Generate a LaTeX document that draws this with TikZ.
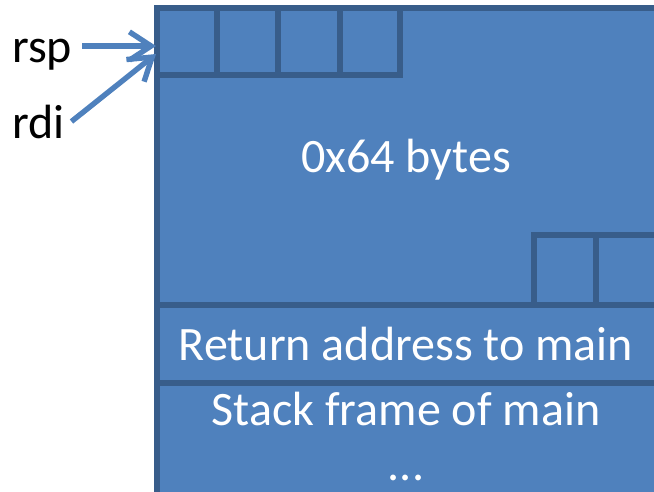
\documentclass[tikz,border=0pt]{standalone}
\usepackage{fontspec}
\setmainfont{Carlito}
\usetikzlibrary{arrows.meta}
\definecolor{memfill}{HTML}{4F81BD}
\definecolor{memedge}{HTML}{385D8A}

\begin{document}
\begin{tikzpicture}[
  x=0.03cm, y=-0.03cm,
  mem/.style={draw=memedge, fill=memfill, line width=4.4pt},
  cell/.style={draw=memedge, line width=4.4pt},
  inbox/.style={font=\fontsize{41}{44}\selectfont, text=white, anchor=base},
  reg/.style={font=\fontsize{41}{44}\selectfont, text=black, anchor=base west, inner sep=0pt},
  ptr/.style={-{Straight Barb[length=6.5mm, width=8.5mm]}, draw=memfill, line width=4.6pt}
]
\clip (0,0) rectangle (654,491);

% stack memory
\draw[mem] (157,8) rectangle (662,500);
\foreach \x in {217,278,340} \draw[cell] (\x,8) -- (\x,75);
\draw[cell] (157,75) -- (400,75) -- (400,8);
\draw[cell] (534,305) -- (534,235) -- (662,235);
\draw[cell] (596,235) -- (596,305);
\draw[cell] (157,305) -- (662,305);
\draw[cell] (157,383) -- (662,383);

\node[inbox] (buf) at (406,172) {0x64 bytes};
\node[inbox] (ret) at (406,360) {Return address to main};
\node[inbox] (frame) at (406,425) {Stack frame of main};
\node[inbox] (more) at (406,480) {...};

% registers
\node[reg] (rsp) at (12,62) {rsp};
\node[reg] (rdi) at (12,138) {rdi};
\coordinate (rsptip) at (156,46);
\coordinate (rditip) at (156,54);
\draw[ptr] ([xshift=0.3cm]rsp.east |- rsptip) -- (rsptip);
\draw[ptr] ([xshift=0.2cm]rdi.east) -- (rditip);
\end{tikzpicture}
\end{document}
